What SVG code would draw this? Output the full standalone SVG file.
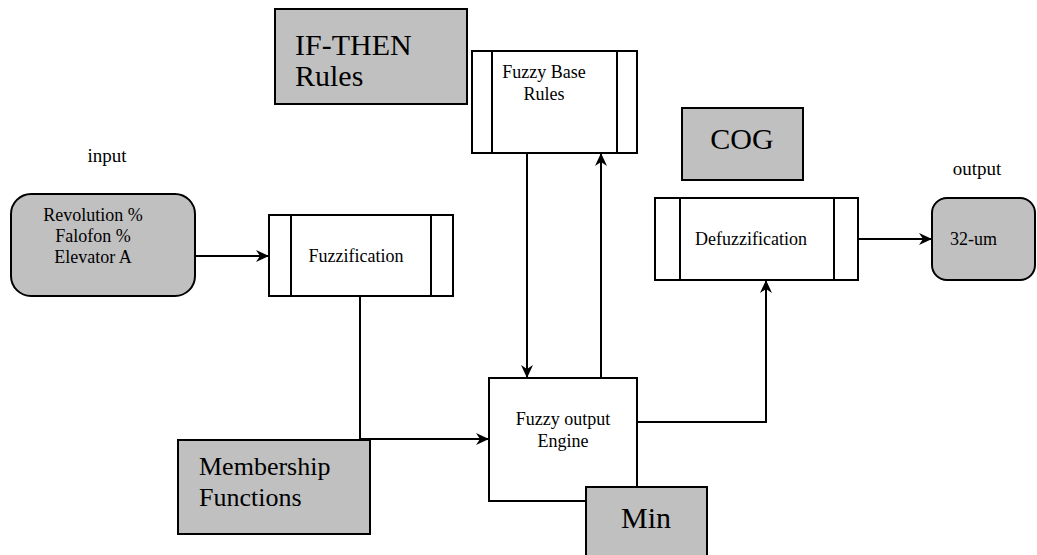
<svg xmlns="http://www.w3.org/2000/svg" width="1037" height="555" viewBox="0 0 1037 555">
<style>
.box{fill:#fff;stroke:#000;stroke-width:2}
.grey{fill:#c0c0c0;stroke:#000;stroke-width:2}
.ln{fill:none;stroke:#000;stroke-width:2}
text{font-family:'Liberation Serif','DejaVu Serif',serif;fill:#000}
.s{font-size:18px}
.m{font-size:19px}
.l{font-size:26px}
.xl{font-size:30px}
.c{text-anchor:middle}
.conn{fill:none;stroke:#000;stroke-width:2;marker-end:url(#arr)}
</style>
<defs>
<marker id="arr" markerWidth="14" markerHeight="12" refX="12" refY="6" orient="auto" markerUnits="userSpaceOnUse">
<path d="M0,0 L13,6 L0,12 L4,6 Z" fill="#000"/>
</marker>
</defs>
<rect width="1037" height="555" fill="#fff"/>
<g id="connectors">
<path class="conn" d="M195,256 L268,256"/>
<path class="conn" d="M360,296 L360,439 L488,439"/>
<path class="conn" d="M527,153 L527,377"/>
<path class="conn" d="M601,378 L601,154"/>
<path class="conn" d="M637,422 L766,422 L766,281"/>
<path class="conn" d="M858,239 L931,239"/>
</g>
<g font-family="'Liberation Serif','DejaVu Serif',serif">
<g id="label-input"><text class="m c" x="107" y="162">input</text></g>
<g id="label-output"><text class="m c" x="977" y="175">output</text></g>
<g id="node-input">
<rect class="grey" x="11" y="194" width="184" height="102" rx="20"/>
<text class="s c" x="93" y="221">Revolution %</text>
<text class="s c" x="93" y="242">Falofon %</text>
<text class="s c" x="93" y="263">Elevator A</text>
</g>
<g id="node-fuzzification">
<rect class="box" x="269" y="215" width="184" height="81"/>
<line class="ln" x1="291" y1="215" x2="291" y2="296"/>
<line class="ln" x1="431" y1="215" x2="431" y2="296"/>
<text class="s c" x="356" y="262">Fuzzification</text>
</g>
<g id="node-ifthen">
<rect class="grey" x="275" y="9" width="192" height="95"/>
<text class="xl" x="295" y="55">IF-THEN</text>
<text class="xl" x="295" y="86">Rules</text>
</g>
<g id="node-fuzzybase">
<rect class="box" x="472" y="51" width="165" height="102"/>
<line class="ln" x1="492" y1="51" x2="492" y2="153"/>
<line class="ln" x1="617" y1="51" x2="617" y2="153"/>
<text class="s c" x="544" y="78">Fuzzy Base</text>
<text class="s c" x="544" y="100">Rules</text>
</g>
<g id="node-cog">
<rect class="grey" x="682" y="108" width="121" height="72"/>
<text class="xl c" x="742" y="149">COG</text>
</g>
<g id="node-defuzzification">
<rect class="box" x="655" y="198" width="203" height="82"/>
<line class="ln" x1="680" y1="198" x2="680" y2="280"/>
<line class="ln" x1="834" y1="198" x2="834" y2="280"/>
<text class="s c" x="751" y="245">Defuzzification</text>
</g>
<g id="node-out">
<rect class="grey" x="932" y="198" width="103" height="82" rx="15"/>
<text class="s" x="950" y="245">32-um</text>
</g>
<g id="node-engine">
<rect class="box" x="489" y="378" width="148" height="123"/>
<text class="s c" x="563" y="425">Fuzzy output</text>
<text class="s c" x="563" y="447">Engine</text>
</g>
<g id="node-membership">
<rect class="grey" x="178" y="440" width="192" height="94"/>
<text class="l" x="199" y="475">Membership</text>
<text class="l" x="199" y="506">Functions</text>
</g>
<g id="node-min">
<rect class="grey" x="586" y="487" width="121" height="80"/>
<text class="xl c" x="646" y="528">Min</text>
</g>
</g>
</svg>
